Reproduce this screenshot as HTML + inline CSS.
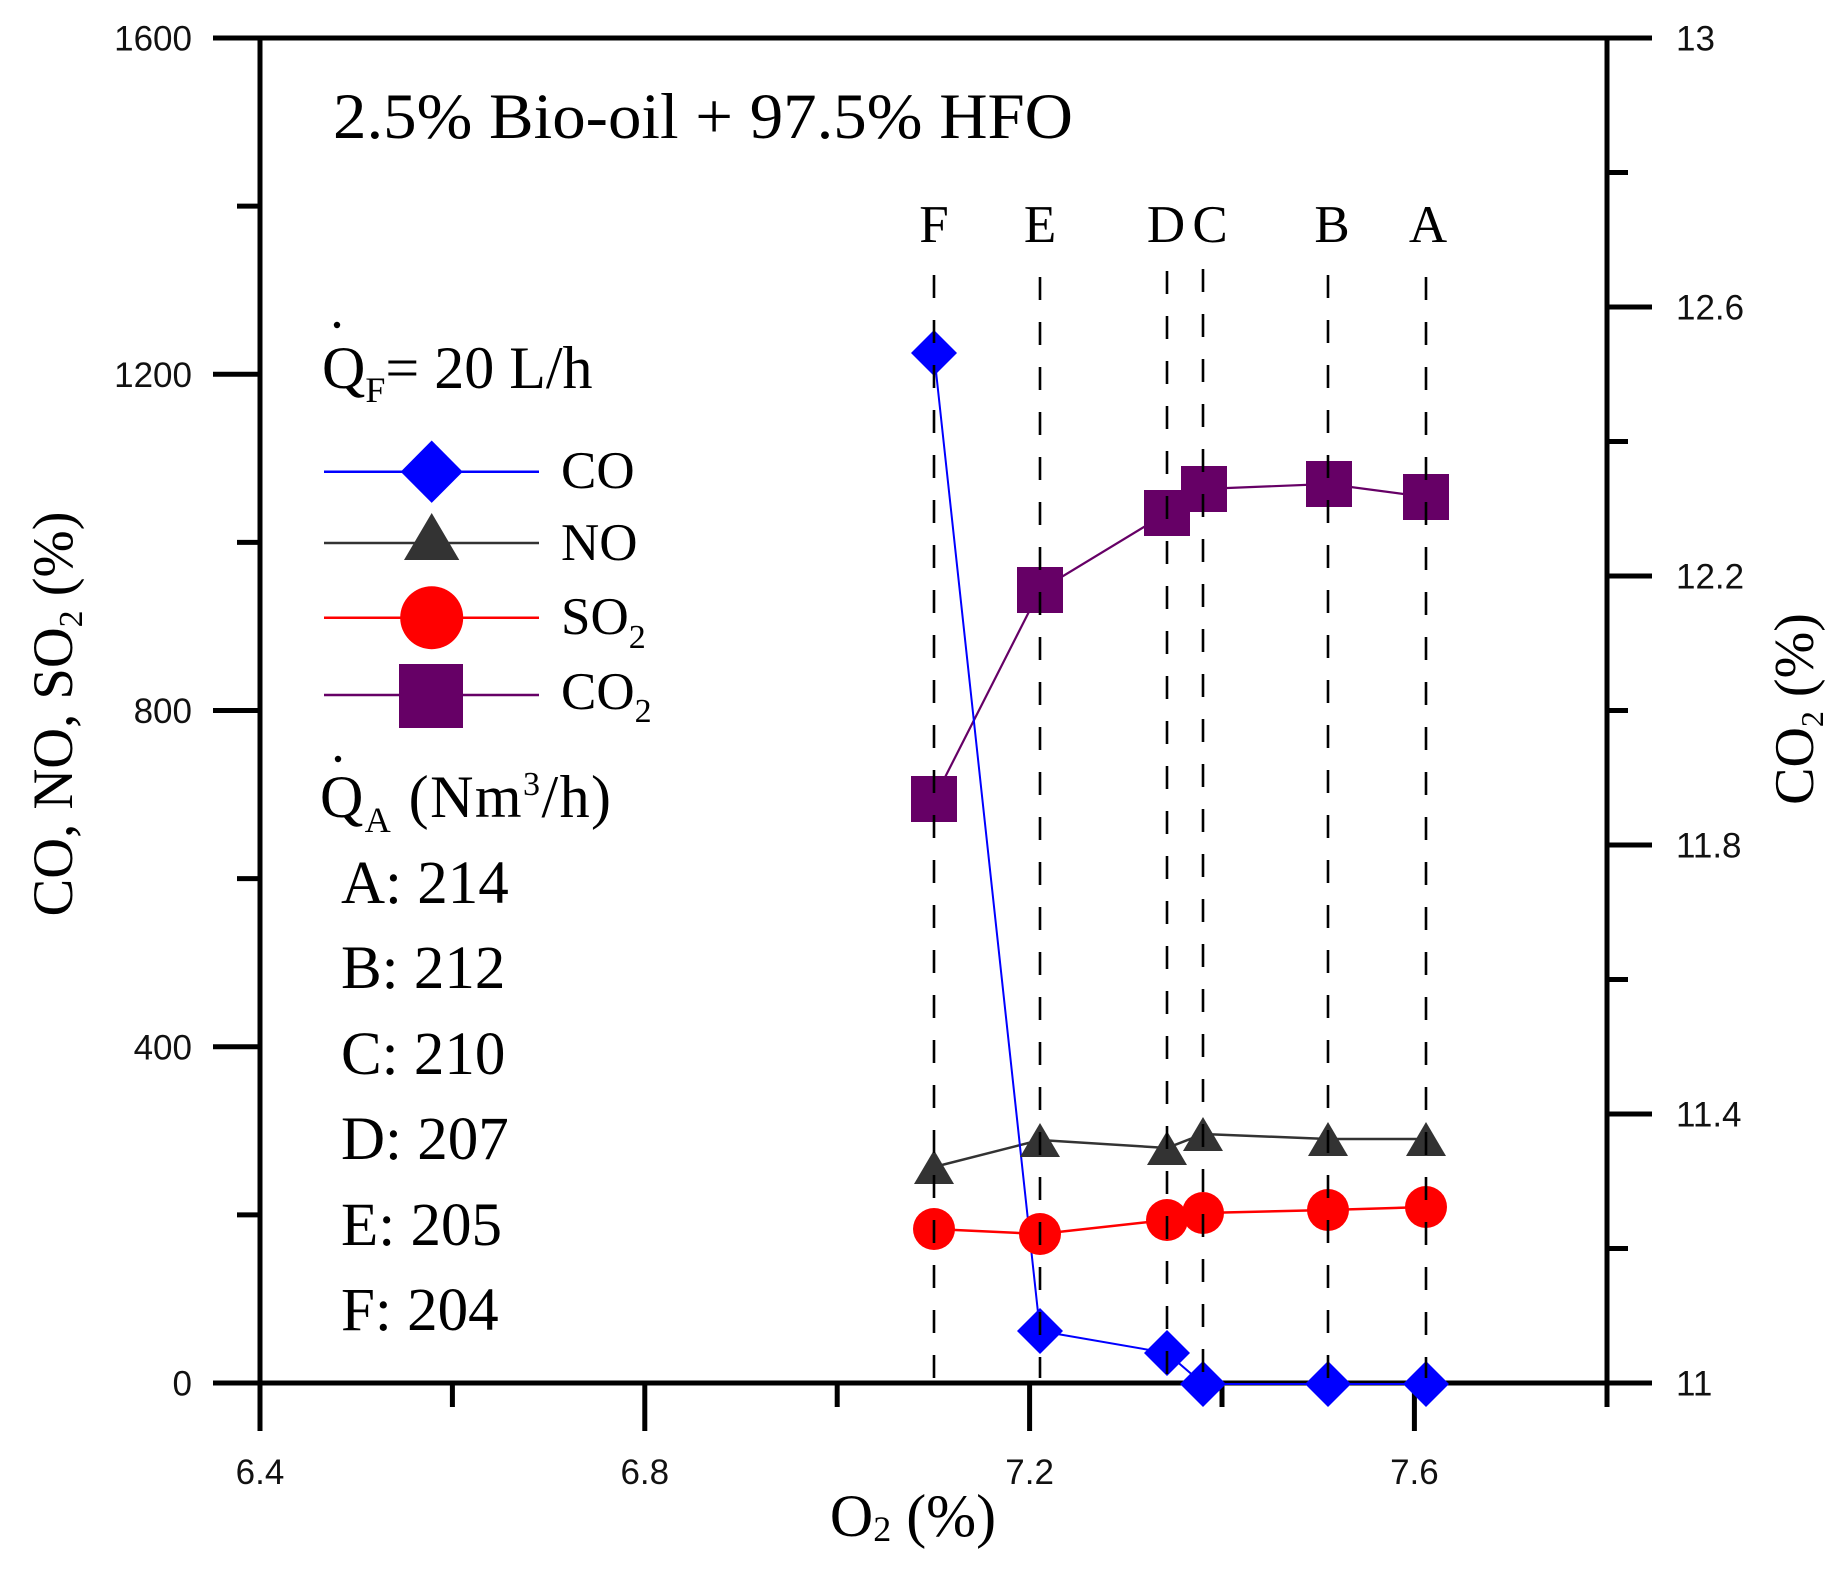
<!DOCTYPE html>
<html>
<head>
<meta charset="utf-8">
<style>
  html,body{margin:0;padding:0;background:#fff;}
  svg{display:block;}
  .sans{font-family:"Liberation Sans",Arial,sans-serif;}
  .serif{font-family:"Liberation Serif","Times New Roman",serif;}
</style>
</head>
<body>
<svg width="1843" height="1571" viewBox="0 0 1843 1571" xmlns="http://www.w3.org/2000/svg">
  <rect x="0" y="0" width="1843" height="1571" fill="#fff"/>

  <!-- Axes frame -->
  <g stroke="#000" stroke-width="5" fill="none" stroke-linecap="butt">
    <line x1="213" y1="38" x2="1652" y2="38"/>
    <line x1="213" y1="1383" x2="1652" y2="1383"/>
    <line x1="260" y1="36" x2="260" y2="1431"/>
    <line x1="1607" y1="36" x2="1607" y2="1407"/>
    <!-- left major ticks -->
    <line x1="213" y1="374.25" x2="260" y2="374.25"/>
    <line x1="213" y1="710.5" x2="260" y2="710.5"/>
    <line x1="213" y1="1046.75" x2="260" y2="1046.75"/>
    <!-- left minor ticks -->
    <line x1="237" y1="206.1" x2="260" y2="206.1"/>
    <line x1="237" y1="542.4" x2="260" y2="542.4"/>
    <line x1="237" y1="878.6" x2="260" y2="878.6"/>
    <line x1="237" y1="1214.9" x2="260" y2="1214.9"/>
    <!-- right major ticks -->
    <line x1="1607" y1="307" x2="1652" y2="307"/>
    <line x1="1607" y1="576" x2="1652" y2="576"/>
    <line x1="1607" y1="845" x2="1652" y2="845"/>
    <line x1="1607" y1="1114" x2="1652" y2="1114"/>
    <!-- right minor ticks -->
    <line x1="1607" y1="172.5" x2="1628" y2="172.5"/>
    <line x1="1607" y1="441.5" x2="1628" y2="441.5"/>
    <line x1="1607" y1="710.5" x2="1628" y2="710.5"/>
    <line x1="1607" y1="979.5" x2="1628" y2="979.5"/>
    <line x1="1607" y1="1248.5" x2="1628" y2="1248.5"/>
    <!-- bottom major ticks -->
    <line x1="644.8" y1="1383" x2="644.8" y2="1431"/>
    <line x1="1029.6" y1="1383" x2="1029.6" y2="1431"/>
    <line x1="1414.4" y1="1383" x2="1414.4" y2="1431"/>
    <!-- bottom minor ticks -->
    <line x1="452.4" y1="1383" x2="452.4" y2="1407"/>
    <line x1="837.2" y1="1383" x2="837.2" y2="1407"/>
    <line x1="1222" y1="1383" x2="1222" y2="1407"/>
  </g>

  <!-- Tick labels -->
  <g class="sans" font-size="35" fill="#111" text-anchor="end">
    <text x="192" y="50.5">1600</text>
    <text x="192" y="386.75">1200</text>
    <text x="192" y="723">800</text>
    <text x="192" y="1059.25">400</text>
    <text x="192" y="1395.5">0</text>
  </g>
  <g class="sans" font-size="35" fill="#111" text-anchor="start">
    <text x="1676" y="50.5">13</text>
    <text x="1676" y="319.5">12.6</text>
    <text x="1676" y="588.5">12.2</text>
    <text x="1676" y="857.5">11.8</text>
    <text x="1676" y="1126.5">11.4</text>
    <text x="1676" y="1395.5">11</text>
  </g>
  <g class="sans" font-size="35" fill="#111" text-anchor="middle">
    <text x="260" y="1484">6.4</text>
    <text x="644.8" y="1484">6.8</text>
    <text x="1029.6" y="1484">7.2</text>
    <text x="1414.4" y="1484">7.6</text>
  </g>

  <!-- Axis titles -->
  <text class="serif" font-size="60" fill="#000" text-anchor="middle" x="913" y="1536">O<tspan font-size="36" dy="5">2</tspan><tspan dy="-5"> (%)</tspan></text>
  <text class="serif" font-size="57" fill="#000" text-anchor="middle" transform="translate(72,714) rotate(-90)" textLength="405" lengthAdjust="spacingAndGlyphs">CO, NO, SO<tspan font-size="34" dy="10">2</tspan><tspan dy="-10"> (%)</tspan></text>
  <text class="serif" font-size="56" fill="#000" text-anchor="middle" transform="translate(1813,709) rotate(-90)">CO<tspan font-size="32" dy="10">2</tspan><tspan dy="-10"> (%)</tspan></text>

  <!-- Title -->
  <text class="serif" font-size="65" fill="#000" x="333" y="138" textLength="740" lengthAdjust="spacingAndGlyphs">2.5% Bio-oil + 97.5% HFO</text>

  <!-- QF -->
  <circle cx="337" cy="325" r="3.2" fill="#000"/>
  <text class="serif" font-size="60" fill="#000" x="322" y="388">Q<tspan font-size="36" dy="14">F</tspan><tspan dy="-14">= 20 L/h</tspan></text>

  <!-- Legend -->
  <g stroke-width="2.5">
    <line x1="324" y1="471.7" x2="539" y2="471.7" stroke="#0000ff"/>
    <line x1="324" y1="543" x2="539" y2="543" stroke="#333333"/>
    <line x1="324" y1="617.7" x2="539" y2="617.7" stroke="#ff0000"/>
    <line x1="324" y1="695" x2="539" y2="695" stroke="#660066"/>
  </g>
  <polygon points="431.7,440.5 462.7,471.7 431.7,502.9 400.7,471.7" fill="#0000ff"/>
  <polygon points="431.7,513 459.3,560 404,560" fill="#333333"/>
  <circle cx="431.7" cy="617.7" r="31.5" fill="#ff0000"/>
  <rect x="399" y="664" width="64" height="64" fill="#660066"/>
  <g class="serif" font-size="53" fill="#000">
    <text x="561" y="488">CO</text>
    <text x="561" y="560">NO</text>
    <text x="561" y="634">SO<tspan font-size="34" dy="14">2</tspan></text>
    <text x="561" y="709">CO<tspan font-size="34" dy="13">2</tspan></text>
  </g>

  <!-- QA -->
  <circle cx="338" cy="759" r="3.2" fill="#000"/>
  <text class="serif" font-size="60" fill="#000" x="320" y="817" textLength="291" lengthAdjust="spacing">Q<tspan font-size="36" dy="15">A</tspan><tspan dy="-15"> (Nm</tspan><tspan font-size="34" dy="-22">3</tspan><tspan dy="22">/h)</tspan></text>
  <g class="serif" font-size="61" fill="#000">
    <text x="341" y="903">A: 214</text>
    <text x="341" y="988">B: 212</text>
    <text x="341" y="1074">C: 210</text>
    <text x="341" y="1159">D: 207</text>
    <text x="341" y="1245">E: 205</text>
    <text x="341" y="1330">F: 204</text>
  </g>

  <!-- Series lines -->
  <polyline fill="none" stroke="#660066" stroke-width="2.2" points="934,799 1040,590 1167,513 1203,489 1328,484 1426,497"/>
  <polyline fill="none" stroke="#333333" stroke-width="2.5" points="934,1167 1040,1140 1167,1148 1203,1134 1328,1139 1426,1139"/>
  <polyline fill="none" stroke="#ff0000" stroke-width="2.5" points="934,1229 1040,1234 1167,1220 1203,1213 1328,1210 1426,1207"/>
  <polyline fill="none" stroke="#0000ff" stroke-width="2" points="934,353 1040,1331 1167,1353 1203,1384 1328,1384 1426,1384"/>

  <!-- CO2 squares -->
  <g fill="#660066">
    <rect x="911" y="776" width="46" height="46"/>
    <rect x="1017" y="567" width="46" height="46"/>
    <rect x="1144" y="490" width="46" height="46"/>
    <rect x="1181" y="466" width="46" height="46"/>
    <rect x="1306" y="461" width="46" height="46"/>
    <rect x="1403" y="474" width="46" height="46"/>
  </g>
  <!-- NO triangles -->
  <g fill="#333333">
    <polygon points="934,1150 954,1184 914,1184"/>
    <polygon points="1040,1123 1060,1157 1020,1157"/>
    <polygon points="1167,1131 1187,1165 1147,1165"/>
    <polygon points="1203,1117 1223,1151 1183,1151"/>
    <polygon points="1328,1122 1348,1156 1308,1156"/>
    <polygon points="1426,1122 1446,1156 1406,1156"/>
  </g>
  <!-- SO2 circles -->
  <g fill="#ff0000">
    <circle cx="934" cy="1229" r="21"/>
    <circle cx="1040" cy="1234" r="21"/>
    <circle cx="1167" cy="1220" r="21"/>
    <circle cx="1203" cy="1213" r="21"/>
    <circle cx="1328" cy="1210" r="21"/>
    <circle cx="1426" cy="1207" r="21"/>
  </g>
  <!-- CO diamonds -->
  <g fill="#0000ff">
    <polygon points="934,330 957,353 934,376 911,353"/>
    <polygon points="1040,1308 1063,1331 1040,1354 1017,1331"/>
    <polygon points="1167,1330 1190,1353 1167,1376 1144,1353"/>
    <polygon points="1203,1361 1226,1384 1203,1407 1180,1384"/>
    <polygon points="1328,1361 1351,1384 1328,1407 1305,1384"/>
    <polygon points="1426,1361 1449,1384 1426,1407 1403,1384"/>
  </g>

  <!-- Dashed reference lines -->
  <g stroke="#000" stroke-width="2.6" stroke-dasharray="23 22" fill="none">
    <line x1="934" y1="275" x2="934" y2="1378"/>
    <line x1="1040" y1="277" x2="1040" y2="1378"/>
    <line x1="1167" y1="271" x2="1167" y2="1378"/>
    <line x1="1203" y1="269" x2="1203" y2="1378"/>
    <line x1="1328" y1="275" x2="1328" y2="1378"/>
    <line x1="1426" y1="277" x2="1426" y2="1378"/>
  </g>

  <!-- Condition letters -->
  <g class="serif" font-size="53" fill="#000" text-anchor="middle">
    <text x="934" y="242">F</text>
    <text x="1040" y="242">E</text>
    <text x="1166" y="242">D</text>
    <text x="1210" y="242">C</text>
    <text x="1332" y="242">B</text>
    <text x="1428" y="242">A</text>
  </g>
</svg>
</body>
</html>
